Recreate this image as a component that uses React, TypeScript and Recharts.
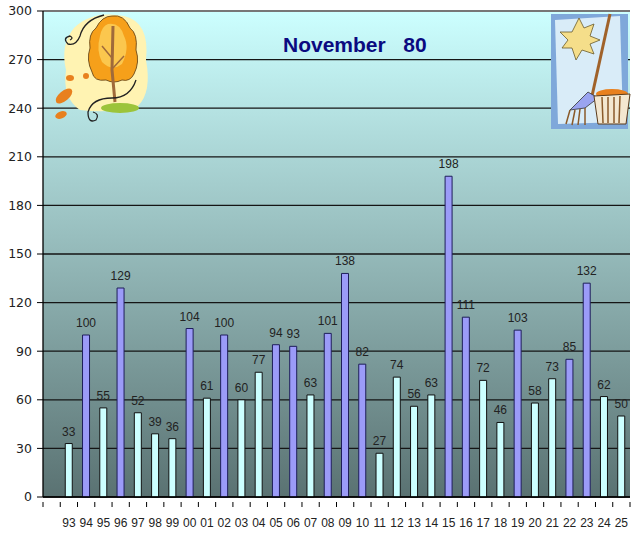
import { BarChart, Bar, XAxis, YAxis, CartesianGrid, Cell, LabelList, ReferenceLine } from 'recharts';

const years = ['93', '94', '95', '96', '97', '98', '99', '00', '01', '02', '03', '04', '05', '06', '07', '08', '09', '10', '11', '12', '13', '14', '15', '16', '17', '18', '19', '20', '21', '22', '23', '24', '25'];
const snowfall = [33, 100, 55, 129, 52, 39, 36, 104, 61, 100, 60, 77, 94, 93, 63, 101, 138, 82, 27, 74, 56, 63, 198, 111, 72, 46, 103, 58, 73, 85, 132, 62, 50];
const yTicks = [0, 30, 60, 90, 120, 150, 180, 210, 240, 270, 300];
const average = 80;

// the original chart leaves one empty slot before 93
const data = [{ year: '', value: null as number | null }].concat(
  years.map((y, i) => ({ year: y, value: snowfall[i] }))
);

const W = 644;
const H = 534;

function YearTick(props: any) {
  const { x, y, payload, index } = props;
  const off = payload && payload.offset ? payload.offset : 8.63;
  const last = index === data.length - 1;
  return (
    <g>
      <line x1={x - off} y1={y} x2={x - off} y2={y + 5} stroke="#000" />
      {last && <line x1={x + off} y1={y} x2={x + off} y2={y + 5} stroke="#000" />}
      <text x={x} y={y + 25} textAnchor="middle" fontSize={12} fill="#222" fontFamily="Liberation Sans, Arial, sans-serif">
        {payload.value}
      </text>
    </g>
  );
}

function Tree() {
  return (
    <g>
      <path d="M74 28 Q92 10 124 16 Q150 22 146 60 Q152 92 138 106 Q110 114 80 110 Q62 98 66 70 Q60 45 74 28 Z" fill="#fff3b2" />
      <path d="M112 16 Q124 14 130 28 Q138 34 136 50 Q140 62 134 74 Q130 82 122 80 Q114 84 106 80 Q94 82 92 72 Q86 60 90 48 Q88 34 96 28 Q102 16 112 16 Z" fill="#f6a01a" stroke="#5a3a10" strokeWidth={0.8} />
      <path d="M108 24 Q120 22 124 36 Q130 48 122 64 Q112 72 102 62 Q96 50 100 36 Q102 26 108 24 Z" fill="#fbc74e" />
      <path d="M113 26 L112 70 L115 102" stroke="#a06a3a" strokeWidth={3} fill="none" />
      <path d="M112 58 L102 46 M113 68 L124 56" stroke="#a06a3a" strokeWidth={1.5} fill="none" />
      <ellipse cx={120} cy={108} rx={19} ry={5} fill="#9cc43a" />
      <path d="M104 15 Q84 20 80 36 Q76 46 68 44 Q62 38 70 36 Q74 38 70 40" stroke="#222" strokeWidth={1.3} fill="none" />
      <path d="M136 80 Q130 98 112 98 Q92 98 88 112 Q88 124 96 120 Q100 114 93 112" stroke="#222" strokeWidth={1.3} fill="none" />
      <ellipse cx={64} cy={96} rx={10} ry={5} fill="#e8801e" transform="rotate(-40 64 96)" />
      <ellipse cx={61} cy={115} rx={6} ry={3.5} fill="#e8801e" transform="rotate(-20 61 115)" />
      <ellipse cx={70} cy={78} rx={4} ry={3} fill="#e8801e" />
      <ellipse cx={86} cy={76} rx={3} ry={3} fill="#e8801e" />
    </g>
  );
}

function Rake() {
  return (
    <g>
      <rect x={551} y={14} width={77} height={115} fill="#7fa8da" />
      <polygon points="555,20 620,16 623,122 558,124" fill="#d9ecf8" />
      <path d="M579 18 L584 28 L594 24 L590 36 L600 40 L590 44 L594 54 L582 50 L576 60 L572 48 L562 48 L568 40 L560 32 L572 32 Z" fill="#f5de8a" stroke="#6a5a2a" strokeWidth={0.8} />
      <line x1={610} y1={14} x2={592} y2={96} stroke="#a0622a" strokeWidth={3} />
      <path d="M588 92 L598 98 L585 108 L570 110 Z" fill="#9aa4f0" stroke="#333" strokeWidth={0.8} />
      <path d="M570 110 L566 124 M575 110 L572 125 M580 109 L578 125 M585 108 L585 125" stroke="#8a5a2a" strokeWidth={1.5} />
      <ellipse cx={612} cy={94} rx={16} ry={5} fill="#e8801e" />
      <path d="M594 96 L630 94 L626 124 L598 124 Z" fill="#f3e7d0" stroke="#5a3a1a" strokeWidth={1} />
      <path d="M602 97 L603 123 M608 97 L608 123 M614 97 L614 123 M620 96 L619 123" stroke="#8a5a2a" strokeWidth={1.5} />
    </g>
  );
}

export default function App() {
  return (
    <div style={{ position: 'relative', width: W, height: H, background: '#fff' }}>
      <style>{'body{margin:0}'}</style>
      <BarChart
        width={W}
        height={H}
        data={data}
        margin={{ top: 11, right: 14, left: 0, bottom: 0 }}
        barCategoryGap={0}
      >
        <defs>
          <linearGradient id="plotBg" x1="0" y1="0" x2="0" y2="1">
            <stop offset="0%" stopColor="#ccffff" />
            <stop offset="50%" stopColor="#94b9b9" />
            <stop offset="100%" stopColor="#5a7272" />
          </linearGradient>
        </defs>
        <CartesianGrid vertical={false} stroke="#151515" strokeWidth={1.3} fill="url(#plotBg)" fillOpacity={1} />
        <ReferenceLine y={300} stroke="#777" strokeWidth={2} />
        <XAxis
          dataKey="year"
          interval={0}
          height={37}
          tickSize={5}
          tickMargin={0}
          tickLine={false}
          axisLine={{ stroke: '#000', strokeWidth: 1.3 }}
          tick={<YearTick />}
        />
        <YAxis
          domain={[0, 300]}
          ticks={yTicks}
          width={43}
          tickSize={6}
          tickMargin={5}
          axisLine={{ stroke: '#000', strokeWidth: 1.3 }}
          tickLine={{ stroke: '#000' }}
          tick={{ fill: '#222', fontSize: 12.5, fontFamily: 'DejaVu Sans, Tahoma, sans-serif' }}
        />
        <Bar dataKey="value" barSize={7} isAnimationActive={false}>
          {data.map((d, i) => (
            <Cell
              key={i}
              fill={d.value !== null && d.value > average ? '#9b9bf8' : '#ccffff'}
              stroke={d.value !== null && d.value > average ? '#1e1e5a' : '#111'}
              strokeWidth={1}
            />
          ))}
          <LabelList
            dataKey="value"
            position="top"
            offset={8}
            fill="#222"
            fontSize={12}
            fontFamily="Liberation Sans, Arial, sans-serif"
          />
        </Bar>
      </BarChart>
      <svg width={W} height={H} style={{ position: 'absolute', left: 0, top: 0, pointerEvents: 'none' }}>
        <Tree />
        <Rake />
        <text x={283} y={52} fontSize={21} fontWeight="bold" fill="#0a0a80" fontFamily="Liberation Sans, Arial, sans-serif" xmlSpace="preserve">
          {'November   80'}
        </text>
      </svg>
    </div>
  );
}
